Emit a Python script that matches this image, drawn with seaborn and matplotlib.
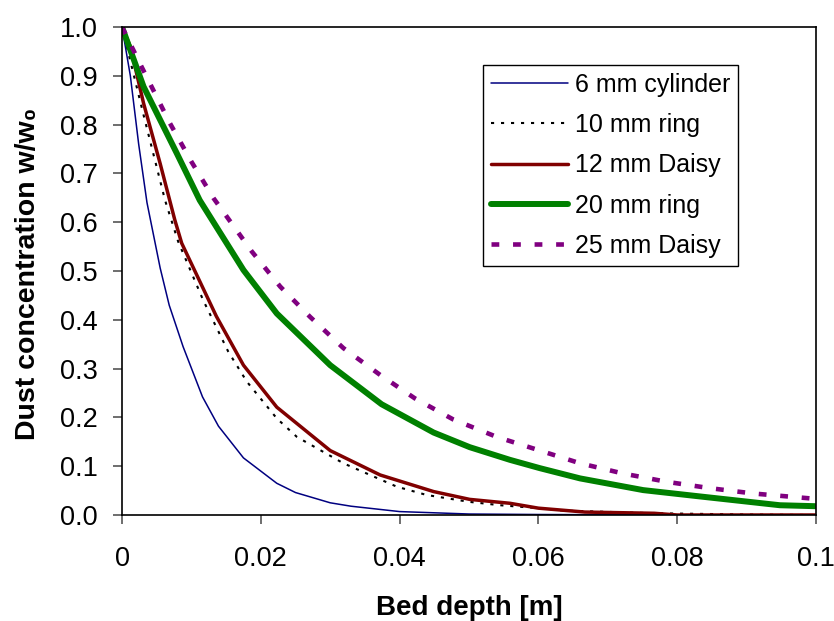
import matplotlib
matplotlib.use("Agg")
import matplotlib.pyplot as plt
import seaborn as sns

# bed depth [m] and w/w0 for each packing
x_cyl6 = [0, 0.0012, 0.0024, 0.0036, 0.0055, 0.0068, 0.0088, 0.0116, 0.0139, 0.0175,
          0.0223, 0.025, 0.030, 0.033, 0.040, 0.050, 0.060, 0.080, 0.100]
y_cyl6 = [1.0, 0.90, 0.76, 0.64, 0.506, 0.43, 0.345, 0.242, 0.182, 0.117,
          0.065, 0.046, 0.025, 0.018, 0.007, 0.002, 0.001, 0.0, 0.0]

x_ring10 = [0, 0.0031, 0.0062, 0.0081, 0.0117, 0.0153, 0.018, 0.0223, 0.0252, 0.0319,
            0.0396, 0.0439, 0.050, 0.0545, 0.060, 0.0636, 0.077, 0.090, 0.100]
y_ring10 = [1.0, 0.82, 0.645, 0.56, 0.44, 0.335, 0.273, 0.198, 0.16, 0.106,
            0.058, 0.041, 0.027, 0.02, 0.014, 0.009, 0.0035, 0.001, 0.0]

x_daisy12 = [0, 0.0012, 0.0031, 0.0055, 0.0076, 0.0086, 0.0136, 0.0175, 0.0223, 0.030,
             0.0372, 0.0449, 0.0501, 0.0559, 0.060, 0.0667, 0.0767, 0.080, 0.100]
y_daisy12 = [1.0, 0.96, 0.844, 0.72, 0.605, 0.557, 0.407, 0.307, 0.221, 0.132,
             0.082, 0.048, 0.032, 0.024, 0.014, 0.006, 0.0035, 0.0, 0.0]

x_ring20 = [0, 0.0031, 0.0079, 0.0112, 0.0175, 0.0223, 0.030, 0.0374, 0.0449, 0.0501,
            0.0559, 0.0602, 0.066, 0.0751, 0.0833, 0.0948, 0.100]
y_ring20 = [1.0, 0.878, 0.741, 0.645, 0.502, 0.413, 0.307, 0.227, 0.169, 0.139,
            0.113, 0.096, 0.075, 0.051, 0.038, 0.02, 0.018]

x_daisy25 = [0, 0.0028, 0.0069, 0.010, 0.0132, 0.0187, 0.0228, 0.0271, 0.0319, 0.0372,
             0.0422, 0.0477, 0.054, 0.060, 0.066, 0.0722, 0.0785, 0.0847, 0.091, 0.100]
y_daisy25 = [1.0, 0.919, 0.803, 0.724, 0.649, 0.54, 0.468, 0.406, 0.342, 0.287,
             0.239, 0.196, 0.16, 0.133, 0.106, 0.085, 0.068, 0.055, 0.044, 0.033]

x_ticks = [0, 0.02, 0.04, 0.06, 0.08, 0.1]
x_tick_labels = ["0", "0.02", "0.04", "0.06", "0.08", "0.1"]
y_ticks = [0.0, 0.1, 0.2, 0.3, 0.4, 0.5, 0.6, 0.7, 0.8, 0.9, 1.0]

series = [
    ("6 mm cylinder", x_cyl6, y_cyl6, "#000080", 1.1, "-"),
    ("10 mm ring", x_ring10, y_ring10, "black", 1.5, (0, (1.5, 3.3))),
    ("12 mm Daisy", x_daisy12, y_daisy12, "#800000", 2.5, "-"),
    ("20 mm ring", x_ring20, y_ring20, "#008000", 4.3, "-"),
    ("25 mm Daisy", x_daisy25, y_daisy25, "#800080", 3.3, (0, (1.7, 3.0))),
]

sns.set_style("ticks")
plt.rcParams['font.family'] = ['Liberation Sans', 'DejaVu Sans']
plt.rcParams['text.color'] = 'black'
plt.rcParams['axes.labelcolor'] = 'black'

fig = plt.figure(figsize=(8.34, 6.21), dpi=100)
ax = fig.add_axes([0.1463, 0.1707, 0.8321, 0.7858])

for label, xs, ys, color, lw, ls in series:
    sns.lineplot(x=xs, y=ys, ax=ax, color=color, linewidth=lw, linestyle=ls,
                 label=label, sort=False, estimator=None)

ax.set_xlim(0, 0.1)
ax.set_ylim(0, 1.0)
ax.set_xticks(x_ticks)
ax.set_xticklabels(x_tick_labels)
ax.set_yticks(y_ticks)
ax.set_yticklabels([f"{v:.1f}" for v in y_ticks])
ax.tick_params(axis='both', labelsize=19.5, length=6.5, width=1.2,
               color='#555555', labelcolor='black')
ax.tick_params(axis='x', pad=16)
ax.tick_params(axis='y', pad=11)

for side in ['top', 'right', 'bottom', 'left']:
    ax.spines[side].set_visible(True)
    ax.spines[side].set_color('black')
    ax.spines[side].set_linewidth(1.2)

ax.set_xlabel("Bed depth [m]", fontsize=20, fontweight='bold', color='black')
ax.set_ylabel("Dust concentration w/w\u2080", fontsize=20.5, fontweight='bold', color='black')
ax.xaxis.set_label_coords(0.5, -0.163)
ax.yaxis.set_label_coords(-0.1167, 0.495)

leg = ax.legend(loc='upper left', bbox_to_anchor=(0.5202, 0.922), fontsize=18,
                frameon=True, fancybox=False, handlelength=3.1, handletextpad=0.25,
                labelspacing=0.65, borderpad=0.31, borderaxespad=0)
leg.get_frame().set_edgecolor('black')
leg.get_frame().set_linewidth(1.0)
leg.get_frame().set_alpha(1)
for txt in leg.get_texts():
    txt.set_color('black')

fig.savefig("out.png", dpi=100)
